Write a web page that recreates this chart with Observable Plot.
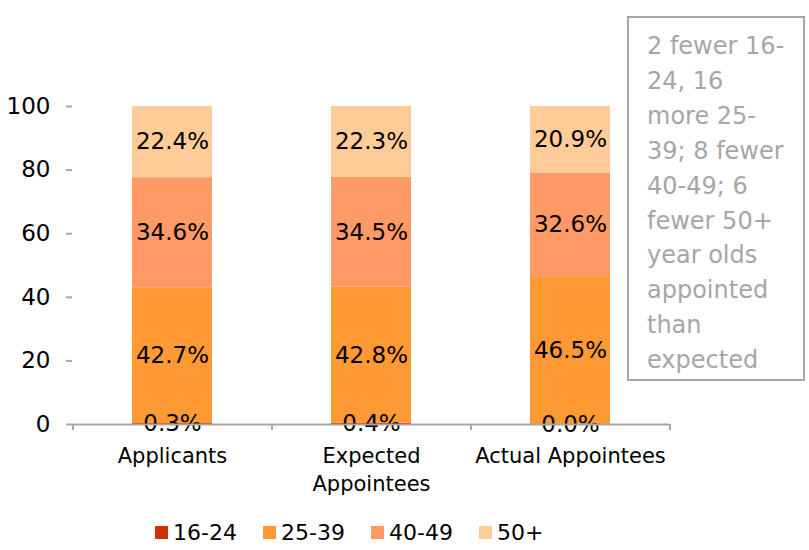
<!DOCTYPE html>
<html>
<head>
<meta charset="utf-8">
<script src="https://cdn.jsdelivr.net/npm/d3@7"></script>
<script src="https://cdn.jsdelivr.net/npm/@observablehq/plot@0.6"></script>
<style>
  body { margin: 0; background: #fff; font-family: "DejaVu Sans", sans-serif; }
  #wrap { position: relative; width: 809px; height: 550px; }
  #note {
    position: absolute; left: 627px; top: 16px; width: 178px; height: 365px;
    box-sizing: border-box; border: 2px solid #a6a6a6; padding: 11px 0 0 18px;
    color: #a6a6a6; font-size: 24px; line-height: 34.9px; white-space: nowrap; overflow: hidden;
  }
  #legend {
    position: absolute; left: 155px; top: 520px; display: flex;
    font-size: 22px; color: #000; align-items: center;
  }
  .item { display: flex; align-items: center; gap: 5px; width: 108px; }
  .sw { width: 13px; height: 13px; display: inline-block; }
</style>
</head>
<body>
<div id="wrap">
  <div id="chart"></div>
  <div id="note"></div>
  <div id="legend"></div>
</div>
<script>
const categories = ["Applicants", "Expected Appointees", "Actual Appointees"];
const tickLabels = ["Applicants", "Expected\nAppointees", "Actual Appointees"];
const ageGroups = ["16-24", "25-39", "40-49", "50+"];
const colors = ["#cc3300", "#ff9933", "#ff9966", "#ffcc99"];
const v16_24 = [0.3, 0.4, 0.0];
const v25_39 = [42.7, 42.8, 46.5];
const v40_49 = [34.6, 34.5, 32.6];
const v50plus = [22.4, 22.3, 20.9];
const yTicks = [0, 20, 40, 60, 80, 100];
const noteLines = ["2 fewer 16-", "24, 16", "more 25-", "39; 8 fewer", "40-49; 6", "fewer 50+", "year olds", "appointed", "than", "expected"];

const series = [v16_24, v25_39, v40_49, v50plus];
const data = [];
categories.forEach((c, i) => {
  ageGroups.forEach((g, j) => {
    data.push({category: c, group: g, value: series[j][i]});
  });
});

const chart = Plot.plot({
  width: 809,
  height: 505,
  marginLeft: 72,
  marginRight: 140,
  marginTop: 106,
  marginBottom: 81,
  style: {fontFamily: "DejaVu Sans, sans-serif", fontSize: "21px", color: "#000", background: "#fff"},
  x: {domain: categories, paddingInner: 0.6, paddingOuter: 0.3, label: null},
  y: {domain: [0, 100], label: null},
  color: {domain: ageGroups, range: colors},
  marks: [
    Plot.barY(data, Plot.stackY({x: "category", y: "value", z: "group", fill: "group", order: ageGroups})),
    Plot.text(data, Plot.stackY({x: "category", y: "value", z: "group", order: ageGroups,
      text: d => d.value.toFixed(1) + "%", fill: "#000", fontSize: 23})),
    Plot.ruleY([0], {stroke: "#a6a6a6", strokeWidth: 2}),
    Plot.ruleX(categories, {x: d => d, dx: -99.5, y1: 0, y2: 0, insetBottom: -6, stroke: "#a6a6a6", strokeWidth: 2}),
    Plot.ruleX([categories[categories.length - 1]], {x: d => d, dx: 99.5, y1: 0, y2: 0, insetBottom: -6, stroke: "#a6a6a6", strokeWidth: 2}),
    Plot.axisY({ticks: yTicks, tickSize: 6, tickPadding: 16, stroke: "#a6a6a6", strokeWidth: 2, strokeOpacity: 1, fontSize: 23, fill: "#000"}),
    Plot.ruleX([0], {frameAnchor: "left", y1: 0, y2: 100, stroke: "#a6a6a6", strokeWidth: 2}),
    Plot.axisX({tickSize: 0, tickPadding: 19, tickFormat: (d, i) => tickLabels[categories.indexOf(d)], fontSize: 21, fill: "#000", lineHeight: 1.33})
  ]
});
document.getElementById("chart").appendChild(chart);

document.getElementById("note").innerHTML = noteLines.join("<br>");

const legend = document.getElementById("legend");
ageGroups.forEach((g, i) => {
  const item = document.createElement("div");
  item.className = "item";
  const sw = document.createElement("span");
  sw.className = "sw";
  sw.style.background = colors[i];
  const t = document.createElement("span");
  t.textContent = g;
  item.appendChild(sw);
  item.appendChild(t);
  legend.appendChild(item);
});
</script>
</body>
</html>
